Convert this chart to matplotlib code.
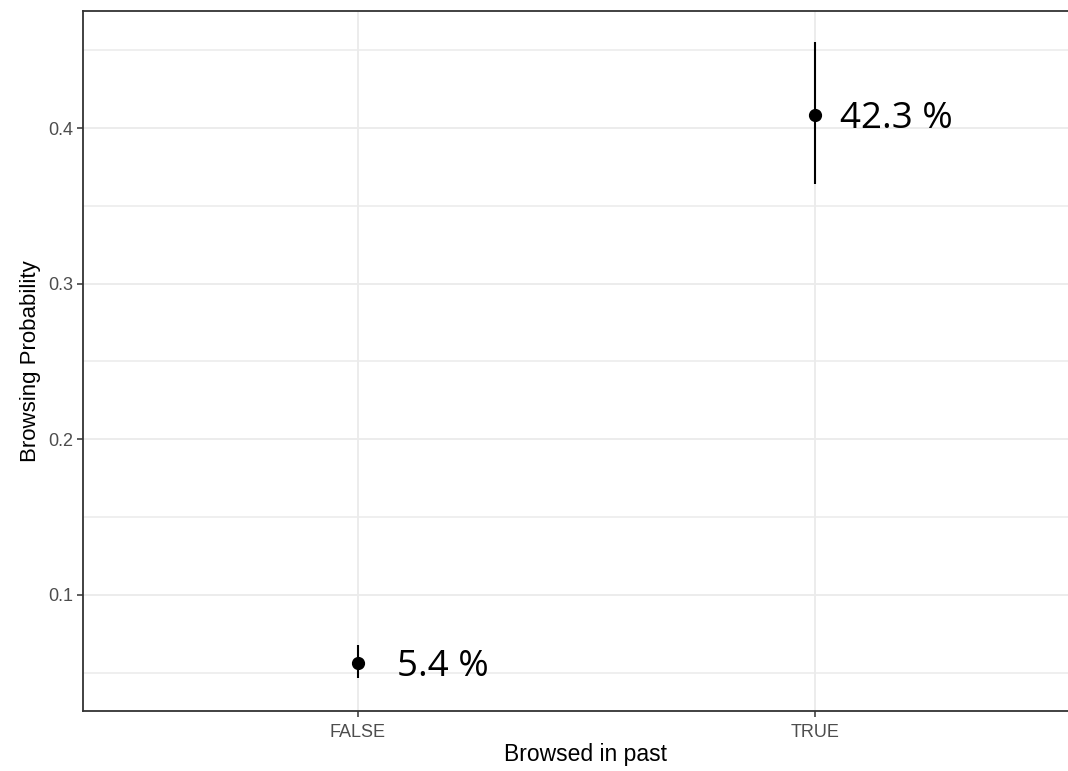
import matplotlib
matplotlib.use("Agg")
import matplotlib.pyplot as plt
from matplotlib.ticker import MultipleLocator

# Estimated browsing probability by past browsing, with intervals
categories = ["FALSE", "TRUE"]
estimates = [0.0563, 0.4085]
lower = [0.0466, 0.3640]
upper = [0.0678, 0.4553]
labels = ["5.4 %", "42.3 %"]
y_ticks = [0.1, 0.2, 0.3, 0.4]

fig = plt.figure(figsize=(10.68, 7.71), dpi=100)
W, H = 1068, 771
left_px, right_px, top_px, bottom_px = 83, 1090, 11, 711
ax = fig.add_axes([left_px / W, 1 - bottom_px / H,
                   (right_px - left_px) / W, (bottom_px - top_px) / H])

x = list(range(1, len(categories) + 1))
yerr = [[e - l for e, l in zip(estimates, lower)],
        [u - e for e, u in zip(estimates, upper)]]
ax.errorbar(x, estimates, yerr=yerr, fmt="o", color="black", ecolor="black",
            elinewidth=1.5, markersize=8.5, capsize=0, zorder=3)

# Value labels to the right of each point (baseline slightly below the point)
px2pt = 72 / 100
offsets_px = [39, 25]
for xi, yi, lab, off in zip(x, estimates, labels, offsets_px):
    ax.annotate(lab, xy=(xi, yi), xytext=(off * px2pt, -13 * px2pt),
                textcoords="offset points", ha="left", va="baseline",
                fontsize=26.5, family="Open Sans", color="black", zorder=4)

ax.set_xlim(0.4, 2.6)
ax.set_ylim(0.0254, 0.4752)
ax.set_xticks(x)
ax.set_xticklabels(categories)
ax.set_yticks(y_ticks)
ax.yaxis.set_minor_locator(MultipleLocator(0.05))
ax.set_yticklabels([f"{v:.1f}" for v in y_ticks])

ax.grid(True, which="major", color="#EBEBEB", linewidth=1.3, zorder=0)
ax.grid(True, which="minor", axis="y", color="#EBEBEB", linewidth=1.1, zorder=0)
ax.set_axisbelow(True)

for s in ax.spines.values():
    s.set_color("#333333")
    s.set_linewidth(1.3)

ax.tick_params(axis="both", which="major", length=4, width=1.1,
               color="#333333", labelcolor="#4D4D4D", labelsize=13, pad=3)
ax.tick_params(axis="x", which="major", pad=5.5)
ax.tick_params(axis="both", which="minor", length=0)
for t in ax.get_xticklabels() + ax.get_yticklabels():
    t.set_family("Liberation Sans")

ax.set_xlabel("Browsed in past", fontsize=16.5, family="Liberation Sans",
              color="black", va="baseline")
ax.set_ylabel("Browsing Probability", fontsize=16, family="Liberation Sans",
              color="black", labelpad=5)
ax.xaxis.set_label_coords((585 - left_px) / (right_px - left_px),
                          (bottom_px - 761) / (bottom_px - top_px))

fig.savefig("out.png", dpi=100)
